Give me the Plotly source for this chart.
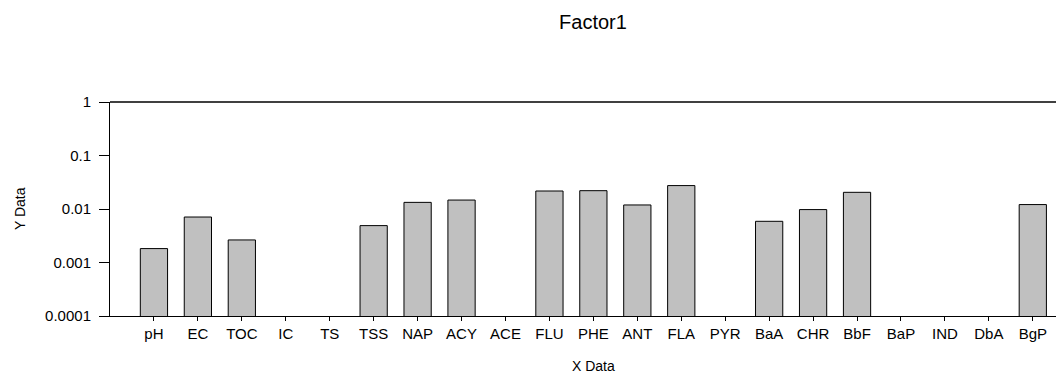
import plotly.graph_objects as go

categories = ["pH", "EC", "TOC", "IC", "TS", "TSS", "NAP", "ACY", "ACE", "FLU", "PHE",
              "ANT", "FLA", "PYR", "BaA", "CHR", "BbF", "BaP", "IND", "DbA", "BgP"]
values = [0.00182, 0.00708, 0.00264, None, None, 0.00489, 0.0133, 0.0147, None, 0.0217, 0.0220,
          0.0119, 0.0274, None, 0.00589, 0.00975, 0.0205, None, None, None, 0.0121]
y_ticks = [0.0001, 0.001, 0.01, 0.1, 1]
y_tick_labels = ["0.0001", "0.001", "0.01", "0.1", "1"]

FONT = "Liberation Sans, Arial, sans-serif"
# page body has an 8px margin, so the figure is placed at (8, 8)
OFF = 8
W, H = 1064 - OFF, 376 - OFF
L, R, T, B = 110 - OFF, 0, 102 - OFF, 376 - 316
PW, PH = W - L - R, H - T - B

fig = go.Figure(go.Bar(
    x=list(range(len(categories))), y=values, width=0.62,
    marker=dict(color="#c0c0c0", line=dict(color="black", width=1)),
))

fig.update_layout(
    width=W, height=H, margin=dict(l=L, r=R, t=T, b=B),
    plot_bgcolor="white", paper_bgcolor="white", showlegend=False,
    font=dict(family=FONT, size=15, color="black"),
    title=dict(text="Factor1", x=(593 - OFF) / W, xref="container", xanchor="center",
               y=1 - (22 - OFF) / H, yanchor="middle", font=dict(size=20)),
    xaxis=dict(range=[-1, 20.71], tickmode="array", tickvals=list(range(len(categories))),
               ticktext=categories, ticks="outside", ticklen=4, tickcolor="black",
               showline=True, linecolor="black", linewidth=1, showgrid=False, zeroline=False,
               tickfont=dict(size=15)),
    yaxis=dict(type="log", range=[-4, 0], tickmode="array", tickvals=y_ticks,
               ticktext=y_tick_labels, ticks="outside", ticklen=10, tickcolor="black",
               ticklabelstandoff=5,
               showline=True, linecolor="black", linewidth=1, showgrid=False, zeroline=False,
               tickfont=dict(size=15)),
    shapes=[dict(type="line", xref="paper", yref="paper", x0=0, x1=1, y0=1, y1=1,
                 line=dict(color="black", width=1.5))],
    annotations=[
        dict(text="X Data", xref="paper", yref="paper",
             x=(593 - 110) / PW, y=-(366 - 316) / PH,
             xanchor="center", yanchor="middle", showarrow=False, font=dict(size=14)),
        dict(text="Y Data", xref="paper", yref="paper",
             x=-(110 - 20) / PW, y=0.5, textangle=-90,
             xanchor="center", yanchor="middle", showarrow=False, font=dict(size=14)),
    ],
)

fig.write_html("out.html")
